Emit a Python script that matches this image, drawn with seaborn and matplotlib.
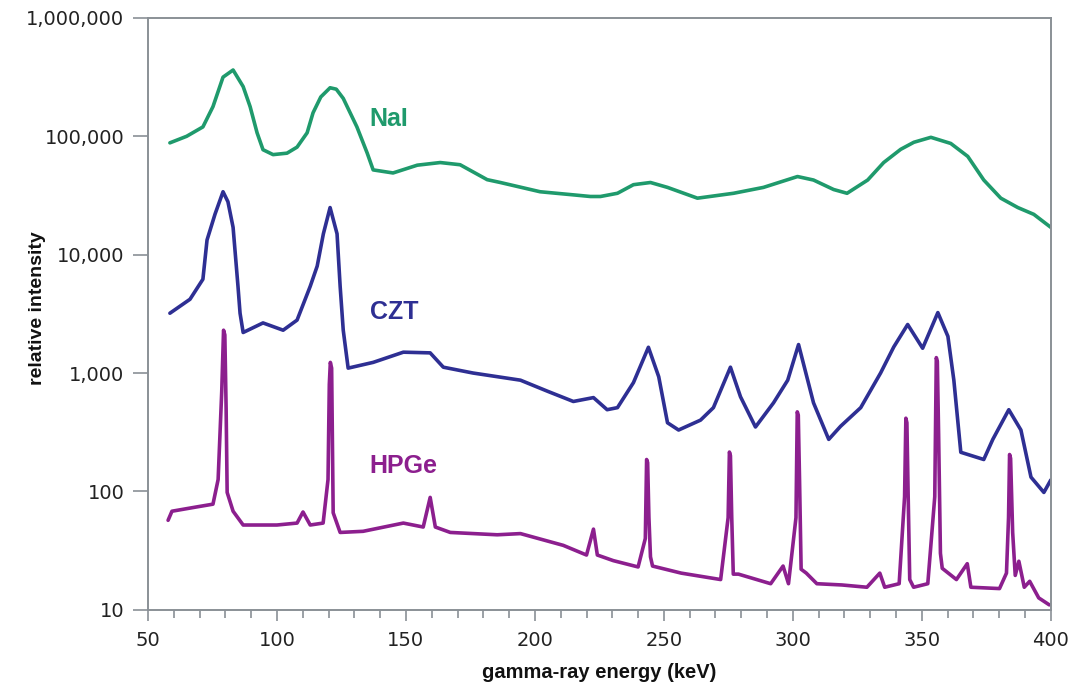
import numpy as np
import pandas as pd
import matplotlib
matplotlib.use("Agg")
import matplotlib.pyplot as plt
import seaborn as sns
from matplotlib.ticker import FuncFormatter, MultipleLocator, FixedLocator

# Spectra (energy in keV, relative intensity)
nai_energy = [58.5, 65, 71.3, 75.2, 79.1, 83, 86.9, 89.6, 92.3, 94.6, 98.5, 103.9,
              107.8, 111.7, 114, 117, 120.6, 123, 125.7, 131, 135, 137.3, 145,
              154.4, 163.3, 171, 181.5, 186.6, 202, 214.9, 221.5, 225.4, 232,
              238.2, 244.8, 251.4, 263, 277, 288.6, 301.8, 308, 315.8, 321, 329,
              335.2, 341.8, 346.9, 353.5, 361.2, 367.8, 374, 380.6, 387.2, 393.4, 400]
nai_counts = [88000, 100000, 120000, 178000, 316000, 363000, 263000, 178000, 107000,
              77000, 70000, 72000, 81000, 107000, 158000, 215000, 257000, 250000,
              209000, 120000, 72000, 52000, 49000, 57000, 60000, 57500, 43000, 40700,
              34000, 32000, 31000, 31000, 33000, 39000, 40700, 37000, 30000, 33000,
              37000, 45700, 42700, 35500, 33000, 42700, 60000, 77600, 89000, 98000,
              87000, 67600, 42700, 30000, 25000, 21900, 17000]

czt_energy = [58.5, 66.3, 71.3, 72.9, 76, 79.1, 81, 83, 84.9, 85.7, 86.9, 94.6,
              102.4, 107.8, 112.9, 115.6, 118, 120.6, 123.3, 124.5, 125.7, 127.6,
              137.3, 149, 159.4, 164.5, 176, 194.4, 205, 214.9, 222.7, 228, 232,
              238.2, 244, 248, 251.4, 255.7, 264.2, 269.2, 275.8, 279.7, 285.5,
              292.5, 298, 302.2, 308, 313.9, 318.5, 326.3, 334, 339.1, 344.5, 350.3,
              356.2, 360.1, 362.4, 365.1, 374, 377.5, 383.7, 388.4, 392.3, 397.3, 400]
czt_counts = [3200, 4200, 6200, 13300, 22000, 34000, 28000, 17000, 5400, 3200, 2200,
              2650, 2300, 2800, 5400, 8000, 15000, 25000, 15000, 5400, 2300, 1100,
              1230, 1500, 1480, 1120, 1000, 870, 700, 575, 620, 490, 510, 830, 1650,
              930, 380, 330, 400, 510, 1120, 630, 350, 560, 870, 1740, 560, 275, 355,
              510, 1000, 1660, 2570, 1620, 3240, 2040, 870, 214, 186, 275, 490, 330,
              132, 98, 125]

hpge_energy = [57.8, 59.3, 69, 75.2, 77.2, 78.6, 79.3, 79.8, 80.3, 80.7, 83, 86.9,
               100, 107.8, 110.1, 112.9, 117.9, 119.8, 120.3, 120.7, 121.2, 121.8,
               124.5, 133.4, 149, 156.7, 159.4, 161.4, 167.2, 185.4, 194.4, 201.3,
               211, 220, 222.7, 224.2, 230.4, 240, 242.8, 243.3, 243.7, 244.2,
               244.8, 245.6, 256.7, 272, 274.9, 275.4, 275.8, 276.3, 276.9, 278.9,
               291.4, 296.2, 298.3, 301.2, 301.7, 302.1, 302.6, 303.2, 305.2, 309.3,
               319, 328.7, 333.7, 335.6, 341.2, 343.3, 343.8, 344.2, 344.7, 345.3,
               346.8, 352.3, 355, 355.6, 356, 356.5, 357.2, 357.9, 363.4, 367.6, 369,
               380.1, 382.8, 383.6, 384.0, 384.4, 385.2, 386.2, 387.6, 389.7, 391.8,
               395.3, 399.4]
hpge_counts = [57, 68, 74, 78, 126, 700, 2300, 2100, 500, 98, 68, 52, 52, 54, 67, 52,
               54, 126, 800, 1230, 1100, 66, 45, 46, 54, 50, 89, 50, 45, 43, 44, 40,
               35, 29, 48, 29, 26, 23, 40, 186, 175, 60, 28, 23.4, 20.4, 18, 60, 215,
               200, 60, 20, 20, 16.6, 23.4, 16.6, 60, 470, 440, 120, 22, 20.4, 16.6,
               16.2, 15.5, 20.4, 15.5, 16.6, 90, 415, 380, 90, 18, 15.5, 16.6, 90,
               1350, 1250, 300, 30, 22.4, 18, 24.5, 15.5, 15.1, 20.4, 60, 205, 190,
               45, 19.5, 25.7, 15.5, 17.4, 12.6, 11]

detectors = ["NaI", "CZT", "HPGe"]
colors = {"NaI": "#1f9a6c", "CZT": "#2e2f93", "HPGe": "#8c1f8e"}
label_pos = {"NaI": (136, 140000), "CZT": (136, 3300), "HPGe": (136, 165)}

df = pd.concat([
    pd.DataFrame({"energy": nai_energy, "counts": nai_counts, "detector": "NaI"}),
    pd.DataFrame({"energy": czt_energy, "counts": czt_counts, "detector": "CZT"}),
    pd.DataFrame({"energy": hpge_energy, "counts": hpge_counts, "detector": "HPGe"}),
], ignore_index=True)

sns.set_style("white")
plt.rcParams["font.family"] = ["DejaVu Sans"]

fig = plt.figure(figsize=(10.8, 6.89), dpi=100)
ax = fig.add_axes([0.137, 0.115, 0.836, 0.859])

sns.lineplot(data=df, x="energy", y="counts", hue="detector", palette=colors,
             hue_order=detectors, estimator=None, sort=False, linewidth=2.6,
             legend=False, ax=ax)

ax.set_yscale("log")
ax.set_xlim(50, 400)
ax.set_ylim(10, 1000000)

ax.xaxis.set_major_locator(MultipleLocator(50))
ax.xaxis.set_minor_locator(MultipleLocator(10))
ax.yaxis.set_major_locator(FixedLocator([10, 100, 1000, 10000, 100000, 1000000]))
ax.yaxis.set_minor_locator(FixedLocator([]))
ax.yaxis.set_major_formatter(FuncFormatter(lambda v, p: f"{int(round(v)):,}"))

spine_col = "#8a9096"
for s in ax.spines.values():
    s.set_color(spine_col)
    s.set_linewidth(1.4)
ax.tick_params(axis="y", which="major", direction="out", length=11, width=1.2,
               color=spine_col, labelsize=14, pad=6, left=True)
ax.tick_params(axis="x", which="major", direction="out", length=8, width=1.2,
               color=spine_col, labelsize=14, pad=7, bottom=True)
ax.tick_params(axis="x", which="minor", direction="out", length=6, width=1.2,
               color=spine_col, bottom=True)
for lbl in ax.get_xticklabels() + ax.get_yticklabels():
    lbl.set_color("#222222")

label_font = ["Liberation Sans", "DejaVu Sans"]
ax.set_xlabel("gamma-ray energy (keV)", fontsize=14.5, fontweight="bold",
              family=label_font, color="#111111")
ax.set_ylabel("relative intensity", fontsize=14, fontweight="bold",
              family=label_font, color="#111111")
ax.xaxis.set_label_coords(0.5, -0.09)
ax.yaxis.set_label_coords(-0.113, 0.51)

for d in detectors:
    x, y = label_pos[d]
    ax.text(x, y, d, color=colors[d], fontsize=18, fontweight="bold",
            family=["Liberation Sans", "DejaVu Sans"], ha="left", va="center")

fig.savefig("out.png", dpi=100)
